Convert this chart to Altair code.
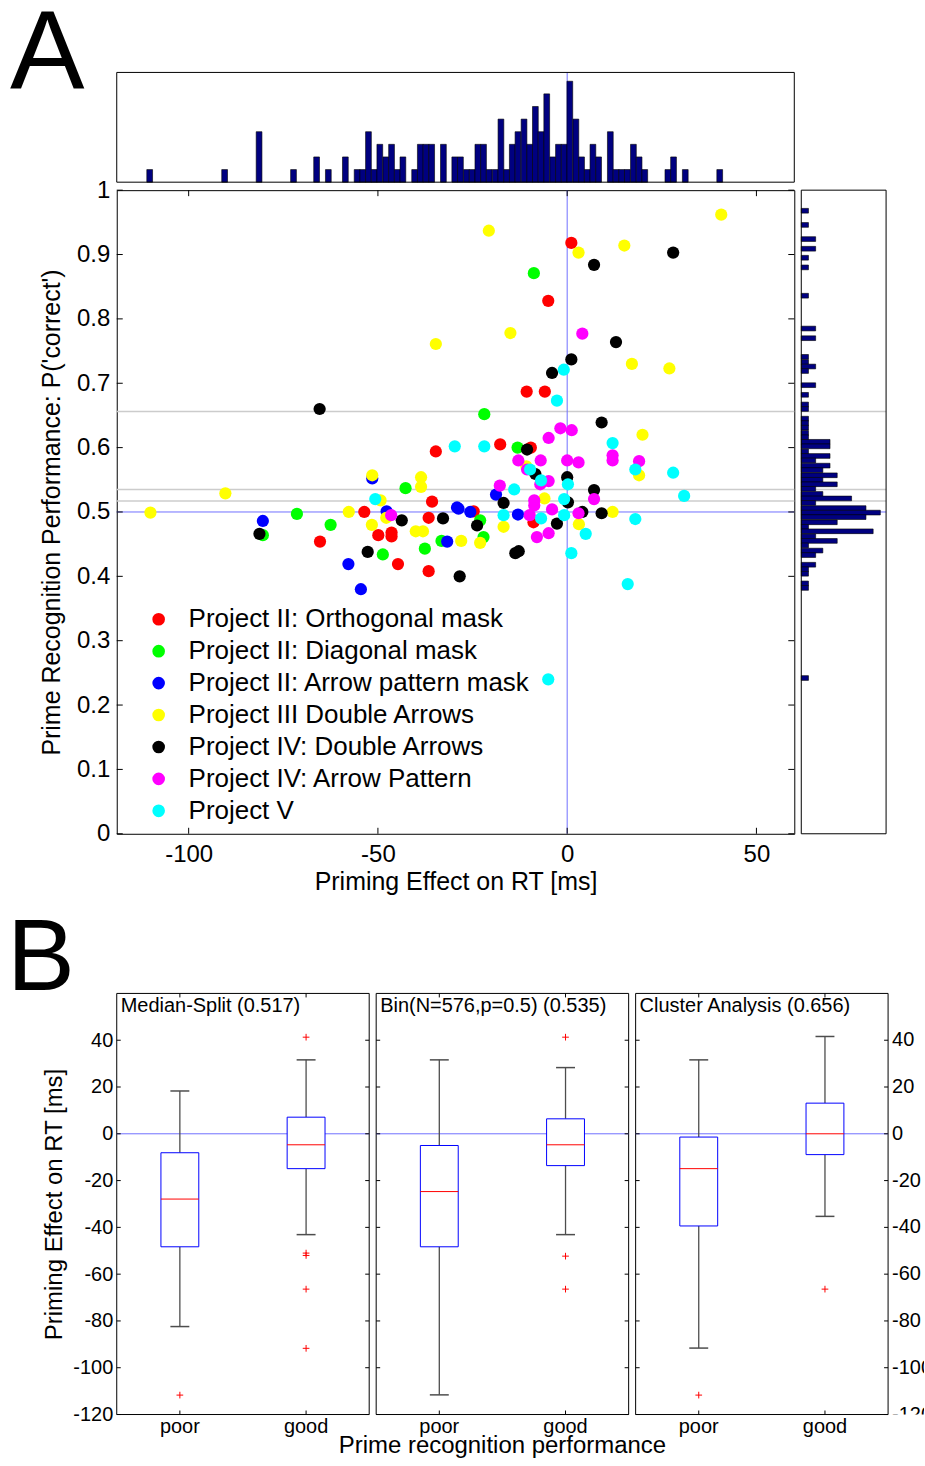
import altair as alt
import pandas as pd

FONT = "Liberation Sans"

# ---------------- Panel A: scatter data, one pair of lists per project ----------------
PROJECTS = [
    "Project II: Orthogonal mask",
    "Project II: Diagonal mask",
    "Project II: Arrow pattern mask",
    "Project III Double Arrows",
    "Project IV: Double Arrows",
    "Project IV: Arrow Pattern",
    "Project V",
]
COLORS = ["#ff0000", "#00ff00", "#0000ff", "#ffff00", "#000000", "#ff00ff", "#00ffff"]

orth_rt = [-65.3, -53.6, -44.7, -49.9, -46.4, -46.4, -34.7, -35.7, -36.6, -36.6, 1.1, -5.0,
           -10.7, -5.9, -17.7, -9.6, -24.7, -8.9]
orth_p = [0.454, 0.500, 0.419, 0.464, 0.468, 0.462, 0.594, 0.516, 0.491, 0.408, 0.918, 0.828,
          0.687, 0.687, 0.605, 0.600, 0.501, 0.484]

diag_rt = [-80.4, -71.4, -62.5, -48.7, -42.7, -37.6, -33.2, -8.8, -21.9, -13.1, -23.0, -22.1]
diag_p = [0.464, 0.497, 0.480, 0.434, 0.537, 0.443, 0.455, 0.871, 0.652, 0.600, 0.487, 0.461]

arrow_rt = [-80.4, -57.8, -54.5, -51.5, -47.7, -31.7, -29.1, -28.7, -25.6, -18.8, -13.0]
arrow_p = [0.486, 0.419, 0.380, 0.552, 0.501, 0.454, 0.507, 0.505, 0.500, 0.527, 0.496]

p3_rt = [-110.1, -90.3, -57.7, -51.5, -49.3, -47.8, -51.6, -38.6, -38.6, -40.0, -38.1, -28.0,
         -34.7, -20.7, 3.0, 15.1, 40.7, -15.0, 17.1, 27.0, 19.9, 19.0, -10.8, -6.0, 12.0, 3.1,
         -16.8, -23.0]
p3_p = [0.499, 0.529, 0.500, 0.557, 0.518, 0.491, 0.480, 0.554, 0.539, 0.470, 0.470, 0.455,
        0.761, 0.937, 0.903, 0.914, 0.962, 0.778, 0.730, 0.723, 0.620, 0.557, 0.571, 0.521,
        0.500, 0.481, 0.477, 0.452]

p4d_rt = [-65.4, -81.3, -52.7, -43.7, -32.8, -28.4, 28.0, 7.1, 12.9, 1.1, -4.0, 9.1, -10.6,
          -8.4, 0.0, 7.1, -16.8, 0.2, -23.8, 4.0, 9.1, -2.7, -13.7, -12.8]
p4d_p = [0.660, 0.466, 0.438, 0.487, 0.490, 0.400, 0.903, 0.884, 0.764, 0.737, 0.716, 0.639,
         0.597, 0.559, 0.554, 0.534, 0.514, 0.515, 0.479, 0.500, 0.498, 0.482, 0.436, 0.439]

p4a_rt = [-46.5, 4.0, -1.8, 1.2, -4.9, -12.9, -7.0, 0.0, 3.0, 12.0, 12.0, 19.0, -10.6, -4.9,
          -7.1, 7.1, -17.8, -8.7, -8.7, -9.9, -4.0, 3.0, -4.9, -8.0]
p4a_p = [0.495, 0.777, 0.630, 0.627, 0.615, 0.580, 0.580, 0.580, 0.577, 0.588, 0.580, 0.579,
         0.566, 0.548, 0.543, 0.520, 0.541, 0.518, 0.510, 0.495, 0.504, 0.498, 0.467, 0.461]

p5_rt = [-50.7, -29.7, -0.9, -2.7, -21.9, 12.0, 18.0, 28.0, 30.9, -9.8, -6.9, 0.2, -14.0, -0.8,
         -16.8, -6.9, -0.8, 18.0, 4.9, 1.1, 16.0, -5.0]
p5_p = [0.520, 0.602, 0.721, 0.673, 0.602, 0.607, 0.566, 0.561, 0.525, 0.566, 0.549, 0.543,
        0.535, 0.520, 0.495, 0.490, 0.495, 0.489, 0.466, 0.436, 0.388, 0.240]

# split criteria drawn as horizontal reference lines
split_levels = [0.656, 0.535, 0.517]

# marginal histogram of RT priming effects (bin centre, count)
rt_bin_centre = [-110.3, -90.5, -81.4, -72.3, -66.2, -63.1, -58.6, -55.5, -54.0, -52.5,
                 -51.0, -49.5, -47.9, -46.4, -44.9, -43.4, -40.3, -38.8, -37.3, -35.8,
                 -32.7, -29.7, -28.2, -26.6, -25.1, -23.6, -22.1, -20.6, -19.0, -17.5,
                 -16.0, -14.5, -13.0, -11.4, -9.9, -8.4, -6.9, -5.4, -3.8, -2.3,
                 -0.8, 0.7, 2.3, 3.8, 5.3, 6.8, 8.3, 11.4, 12.9, 14.4,
                 15.9, 17.5, 19.0, 20.5, 26.6, 28.1, 31.2, 40.3]
rt_bin_count = [1, 1, 4, 1, 2, 1, 2, 1, 1, 4,
                1, 3, 2, 3, 1, 2, 1, 3, 3, 3,
                3, 2, 2, 1, 1, 3, 3, 1, 1, 5,
                1, 3, 4, 5, 3, 6, 4, 7, 2, 3,
                3, 8, 5, 2, 1, 3, 2, 4, 1, 1,
                1, 3, 2, 1, 1, 2, 1, 1]
RT_BIN_WIDTH = 1.521

# marginal histogram of recognition performance (bin centre, count)
pc_bin_centre = [0.968, 0.946, 0.924, 0.909, 0.895, 0.880, 0.836, 0.785, 0.770, 0.741,
                 0.733, 0.726, 0.719, 0.697, 0.682, 0.667, 0.660, 0.645, 0.638, 0.631,
                 0.623, 0.616, 0.609, 0.602, 0.594, 0.587, 0.580, 0.572, 0.565, 0.557,
                 0.550, 0.543, 0.536, 0.528, 0.521, 0.514, 0.506, 0.499, 0.492, 0.484,
                 0.477, 0.470, 0.462, 0.455, 0.448, 0.440, 0.433, 0.418, 0.411, 0.404,
                 0.389, 0.382, 0.242]
pc_bin_count = [1, 1, 2, 2, 1, 1, 1, 2, 2, 1,
                1, 2, 1, 2, 1, 1, 1, 1, 1, 1,
                1, 1, 4, 4, 1, 4, 2, 4, 3, 5,
                3, 5, 2, 3, 7, 2, 9, 11, 9, 5,
                1, 10, 2, 5, 1, 3, 2, 2, 1, 1,
                1, 1, 1]
PC_BIN_WIDTH = 0.00733

# ---------------- Panel B: box-plot summaries ----------------
panel_titles = ["Median-Split (0.517)", "Bin(N=576,p=0.5) (0.535)", "Cluster Analysis (0.656)"]
groups = ["poor", "good"]
whisker_low = [[-82.4, -43.1], [-111.6, -43.1], [-91.6, -35.3]]
quart_low = [[-48.3, -14.9], [-48.3, -13.6], [-39.4, -8.9]]
medians = [[-27.9, -4.7], [-24.7, -4.7], [-14.9, 0.0]]
quart_high = [[-8.1, 7.1], [-5.0, 6.4], [-1.4, 13.1]]
whisker_high = [[18.3, 31.6], [31.6, 28.3], [31.6, 41.6]]
outliers = [
    {"poor": [-111.7], "good": [41.3, -51.0, -52.0, -66.4, -91.7]},
    {"poor": [], "good": [41.3, -52.3, -66.4]},
    {"poor": [-111.7], "good": [-66.4]},
]

# ---------------- layout constants (pixels) ----------------
W_SC, H_SC = 679, 645          # scatter plot area
TOP_GAP, H_TOP = 8, 110        # top histogram above the scatter
RIGHT_GAP, W_RIGHT = 7, 85     # right histogram beside the scatter
W_BOX, H_BOX = 253, 422        # each box-plot panel
BOX_X0 = [0, 260, 520]         # left edge of each box-plot panel
W_B = 809                      # panel B drawing width (right labels run to the edge)
NAVY = "#000080"
BLUE_LINE = "#7070ff"
GRAY_LINE = "#cccccc"
WHISKER = "#4d4d4d"

RT_DOMAIN = [-119, 60]
PC_DOMAIN = [0, 1]
TOP_MAX = 8.7
RIGHT_MAX = 11.8

rt_scale = alt.Scale(domain=RT_DOMAIN, nice=False, zero=False)
pc_scale = alt.Scale(domain=PC_DOMAIN, nice=False, zero=False)
top_count_scale = alt.Scale(domain=[0, TOP_MAX], range=[-TOP_GAP, -TOP_GAP - H_TOP],
                            nice=False, zero=False)
right_count_scale = alt.Scale(domain=[0, RIGHT_MAX],
                              range=[W_SC + RIGHT_GAP, W_SC + RIGHT_GAP + W_RIGHT],
                              nice=False, zero=False)

rt_ticks = [-100, -50, 0, 50]
pc_ticks = [0.0, 0.1, 0.2, 0.3, 0.4, 0.5, 0.6, 0.7, 0.8, 0.9, 1.0]
PLAIN_NUM = "'' + datum.value"   # ASCII hyphen for negative numbers

X_AX = alt.Axis(values=rt_ticks, labelExpr=PLAIN_NUM, title="Priming Effect on RT [ms]",
                labelFontSize=24, titleFontSize=25, titleFontWeight="normal", ticks=False,
                domain=False, grid=False, labelPadding=9, titlePadding=3, labelColor="black",
                titleColor="black")
Y_AX = alt.Axis(values=pc_ticks, format=".1~f",
                title="Prime Recognition Performance: P('correct')", labelFontSize=24,
                titleFontSize=25, titleFontWeight="normal", ticks=False, domain=False,
                grid=False, labelPadding=7, titlePadding=12, labelColor="black",
                titleColor="black")

# ---------------- scatter ----------------
rows = []
for name, xs, ys in zip(PROJECTS,
                        [orth_rt, diag_rt, arrow_rt, p3_rt, p4d_rt, p4a_rt, p5_rt],
                        [orth_p, diag_p, arrow_p, p3_p, p4d_p, p4a_p, p5_p]):
    for a, b in zip(xs, ys):
        rows.append({"rt": a, "pc": b, "project": name})
scatter_df = pd.DataFrame(rows)

split_df = pd.DataFrame({"level": split_levels, "c0": 0.0, "c1": RIGHT_MAX})
chance_df = pd.DataFrame({"level": [0.5], "c0": 0.0, "c1": RIGHT_MAX})
zero_df = pd.DataFrame({"rt": [0.0], "c0": 0.0, "c1": TOP_MAX})
xt_df = pd.DataFrame({"rt": rt_ticks})
yt_df = pd.DataFrame({"pc": pc_ticks})

split_rules = alt.Chart(split_df).mark_rule(color=GRAY_LINE, strokeWidth=1.5).encode(
    y=alt.Y("level:Q", scale=pc_scale, axis=Y_AX))
chance_rule = alt.Chart(chance_df).mark_rule(color=BLUE_LINE, strokeWidth=1).encode(
    y=alt.Y("level:Q", scale=pc_scale, axis=Y_AX))
zero_rule = alt.Chart(zero_df).mark_rule(color=BLUE_LINE, strokeWidth=1).encode(
    x=alt.X("rt:Q", scale=rt_scale, axis=X_AX))

tick_len = 6
xt_bottom = alt.Chart(xt_df).mark_rule(color="black").encode(
    x=alt.X("rt:Q", scale=rt_scale, axis=X_AX), y=alt.value(H_SC), y2=alt.value(H_SC - tick_len))
xt_top = alt.Chart(xt_df).mark_rule(color="black").encode(
    x=alt.X("rt:Q", scale=rt_scale, axis=X_AX), y=alt.value(0), y2=alt.value(tick_len))
yt_left = alt.Chart(yt_df).mark_rule(color="black").encode(
    y=alt.Y("pc:Q", scale=pc_scale, axis=Y_AX), x=alt.value(0), x2=alt.value(tick_len))
yt_right = alt.Chart(yt_df).mark_rule(color="black").encode(
    y=alt.Y("pc:Q", scale=pc_scale, axis=Y_AX), x=alt.value(W_SC - tick_len), x2=alt.value(W_SC))

points = alt.Chart(scatter_df).mark_circle(size=150, opacity=1).encode(
    x=alt.X("rt:Q", scale=rt_scale, axis=X_AX),
    y=alt.Y("pc:Q", scale=pc_scale, axis=Y_AX),
    color=alt.Color(
        "project:N",
        scale=alt.Scale(domain=PROJECTS, range=COLORS),
        sort=PROJECTS,
        legend=alt.Legend(orient="none", legendX=29, legendY=417, title=None,
                          labelFontSize=26, labelColor="black", labelLimit=600,
                          symbolType="circle", symbolSize=160, symbolStrokeWidth=0,
                          symbolOpacity=1, rowPadding=6, labelOffset=17, padding=0),
    ),
)

scatter_layer = alt.layer(split_rules, chance_rule, zero_rule, xt_bottom, xt_top, yt_left,
                          yt_right, points)

# ---------------- top marginal histogram (drawn above the scatter) ----------------
top_df = pd.DataFrame({"centre": rt_bin_centre, "count": rt_bin_count})
top_df["lo"] = top_df["centre"] - RT_BIN_WIDTH / 2
top_df["hi"] = top_df["centre"] + RT_BIN_WIDTH / 2
top_df["base"] = 0.0
top_frame_df = pd.DataFrame({"x0": [RT_DOMAIN[0]], "x1": [RT_DOMAIN[1]],
                             "y0": [0.0], "y1": [TOP_MAX]})

TX = lambda f: alt.X(f, scale=rt_scale, axis=None)
TY = lambda f: alt.Y(f, scale=top_count_scale, axis=None)

top_zero = alt.Chart(zero_df).mark_rule(color=BLUE_LINE, strokeWidth=1).encode(
    x=TX("rt:Q"), y=TY("c0:Q"), y2="c1:Q")
top_bars = alt.Chart(top_df).mark_rect(fill=NAVY, stroke="black", strokeWidth=0.6).encode(
    x=TX("lo:Q"), x2="hi:Q", y=TY("base:Q"), y2="count:Q")
top_frame = alt.Chart(top_frame_df).mark_rect(filled=False, color="black", strokeWidth=1).encode(
    x=TX("x0:Q"), x2="x1:Q", y=TY("y0:Q"), y2="y1:Q")
letter_a = alt.Chart(pd.DataFrame({"t": ["A"]})).mark_text(
    fontSize=112, align="left", baseline="alphabetic", color="black").encode(
    text="t:N", x=alt.value(-107), y=alt.value(-102))
top_layer = alt.layer(top_zero, top_bars, top_frame, letter_a)

# ---------------- right marginal histogram (drawn beside the scatter) ----------------
right_df = pd.DataFrame({"centre": pc_bin_centre, "count": pc_bin_count})
right_df["lo"] = right_df["centre"] - PC_BIN_WIDTH / 2
right_df["hi"] = right_df["centre"] + PC_BIN_WIDTH / 2
right_df["base"] = 0.0
right_frame_df = pd.DataFrame({"x0": [0.0], "x1": [RIGHT_MAX],
                               "y0": [PC_DOMAIN[0]], "y1": [PC_DOMAIN[1]]})

RX = lambda f: alt.X(f, scale=right_count_scale, axis=None)
RY = lambda f: alt.Y(f, scale=pc_scale, axis=None)

right_split = alt.Chart(split_df).mark_rule(color=GRAY_LINE, strokeWidth=1.5).encode(
    y=RY("level:Q"), x=RX("c0:Q"), x2="c1:Q")
right_chance = alt.Chart(chance_df).mark_rule(color=BLUE_LINE, strokeWidth=1).encode(
    y=RY("level:Q"), x=RX("c0:Q"), x2="c1:Q")
right_bars = alt.Chart(right_df).mark_rect(fill=NAVY, stroke="black", strokeWidth=0.6).encode(
    y=RY("lo:Q"), y2="hi:Q", x=RX("base:Q"), x2="count:Q")
right_frame = alt.Chart(right_frame_df).mark_rect(filled=False, color="black",
                                                  strokeWidth=1).encode(
    x=RX("x0:Q"), x2="x1:Q", y=RY("y0:Q"), y2="y1:Q")
right_layer = alt.layer(right_split, right_chance, right_bars, right_frame)

panel_a = alt.layer(scatter_layer, top_layer, right_layer).resolve_scale(
    x="independent", y="independent"
).properties(width=W_SC, height=H_SC, view=alt.ViewBackground(stroke="black", strokeWidth=1))

# ---------------- box-plot panels ----------------
EFF_DOMAIN = [-120, 60]
GRP_DOMAIN = [0.5, 2.5]
eff_ticks = [-120, -100, -80, -60, -40, -20, 0, 20, 40]
BOX_HALF = 0.15
CAP_HALF = 0.075
TICK_DX = 4 * (GRP_DOMAIN[1] - GRP_DOMAIN[0]) / W_BOX
TICK_DY = 4 * (EFF_DOMAIN[1] - EFF_DOMAIN[0]) / H_BOX


def box_panel(k):
    xs = alt.Scale(domain=GRP_DOMAIN, range=[BOX_X0[k], BOX_X0[k] + W_BOX], nice=False,
                   zero=False)
    ys = alt.Scale(domain=EFF_DOMAIN, nice=False, zero=False)
    if k == 0:
        yax = alt.Axis(values=eff_ticks, labelExpr=PLAIN_NUM, orient="left",
                       title="Priming Effect on RT [ms]", labelFontSize=20, titleFontSize=24,
                       titleFontWeight="normal", ticks=False, domain=False, grid=False,
                       labelPadding=4, titlePadding=6, labelColor="black",
                       titleColor="black")
    else:
        yax = None

    X = lambda f: alt.X(f, scale=xs, axis=None)
    Y = lambda f: alt.Y(f, scale=ys, axis=yax)

    df = pd.DataFrame({
        "group": groups,
        "pos": [1.0, 2.0],
        "lw": whisker_low[k],
        "q1": quart_low[k],
        "med": medians[k],
        "q3": quart_high[k],
        "uw": whisker_high[k],
    })
    df["blo"] = df["pos"] - BOX_HALF
    df["bhi"] = df["pos"] + BOX_HALF
    df["clo"] = df["pos"] - CAP_HALF
    df["chi"] = df["pos"] + CAP_HALF
    df["ybot"] = EFF_DOMAIN[0]
    df["ybot2"] = EFF_DOMAIN[0] + TICK_DY
    df["ytop"] = EFF_DOMAIN[1]
    df["ytop2"] = EFF_DOMAIN[1] - TICK_DY

    out_rows = []
    for gi, g in enumerate(groups):
        for v in outliers[k][g]:
            out_rows.append({"pos": gi + 1.0, "v": v})
    out_df = pd.DataFrame(out_rows, columns=["pos", "v"])

    frame_df = pd.DataFrame({"x0": [GRP_DOMAIN[0]], "x1": [GRP_DOMAIN[1]],
                             "y0": [EFF_DOMAIN[0]], "y1": [EFF_DOMAIN[1]], "zero": [0.0],
                             "mid": [1.5], "t": [panel_titles[k]],
                             "xt": ["Prime recognition performance"]})
    ytk = pd.DataFrame({"v": eff_ticks})
    ytk["lab"] = [str(v) for v in eff_ticks]
    ytk["l0"] = GRP_DOMAIN[0]
    ytk["l1"] = GRP_DOMAIN[0] + TICK_DX
    ytk["r0"] = GRP_DOMAIN[1] - TICK_DX
    ytk["r1"] = GRP_DOMAIN[1]

    frame = alt.Chart(frame_df).mark_rect(filled=False, color="black", strokeWidth=1).encode(
        x=X("x0:Q"), x2="x1:Q", y=Y("y0:Q"), y2="y1:Q")
    zero_line = alt.Chart(frame_df).mark_rule(color=BLUE_LINE, strokeWidth=1).encode(
        x=X("x0:Q"), x2="x1:Q", y=Y("zero:Q"))
    tk_l = alt.Chart(ytk).mark_rule(color="black").encode(x=X("l0:Q"), x2="l1:Q", y=Y("v:Q"))
    tk_r = alt.Chart(ytk).mark_rule(color="black").encode(x=X("r0:Q"), x2="r1:Q", y=Y("v:Q"))
    tk_b = alt.Chart(df).mark_rule(color="black").encode(x=X("pos:Q"), y=Y("ybot:Q"),
                                                         y2="ybot2:Q")
    tk_t = alt.Chart(df).mark_rule(color="black").encode(x=X("pos:Q"), y=Y("ytop:Q"),
                                                         y2="ytop2:Q")
    wl = alt.Chart(df).mark_rule(color=WHISKER, strokeWidth=1.3).encode(
        x=X("pos:Q"), y=Y("lw:Q"), y2="q1:Q")
    wh = alt.Chart(df).mark_rule(color=WHISKER, strokeWidth=1.3).encode(
        x=X("pos:Q"), y=Y("q3:Q"), y2="uw:Q")
    cap_l = alt.Chart(df).mark_rule(color=WHISKER, strokeWidth=1.5).encode(
        x=X("clo:Q"), x2="chi:Q", y=Y("lw:Q"))
    cap_h = alt.Chart(df).mark_rule(color=WHISKER, strokeWidth=1.5).encode(
        x=X("clo:Q"), x2="chi:Q", y=Y("uw:Q"))
    box = alt.Chart(df).mark_rect(fill="white", stroke="#0000ff", strokeWidth=1).encode(
        x=X("blo:Q"), x2="bhi:Q", y=Y("q1:Q"), y2="q3:Q")
    med = alt.Chart(df).mark_rule(color="#ff0000", strokeWidth=1).encode(
        x=X("blo:Q"), x2="bhi:Q", y=Y("med:Q"))
    outl = alt.Chart(out_df).mark_point(
        shape="M-1,0L1,0M0,-1L0,1", size=45, color="#ff0000", filled=False,
        strokeWidth=1, opacity=1).encode(x=X("pos:Q"), y=Y("v:Q"))
    grp_lab = alt.Chart(df).mark_text(baseline="top", fontSize=20, color="black").encode(
        x=X("pos:Q"), y=alt.value(H_BOX + 3), text="group:N")
    title = alt.Chart(frame_df).mark_text(align="left", baseline="top", fontSize=20,
                                          color="black", dx=4).encode(
        x=X("x0:Q"), y=alt.value(3), text="t:N")

    layers = [frame, zero_line, tk_l, tk_r, tk_b, tk_t, wl, wh, cap_l, cap_h, box, med, outl,
              grp_lab, title]
    if k == 1:
        layers.append(alt.Chart(frame_df).mark_text(baseline="top", fontSize=24,
                                                    color="black").encode(
            x=X("mid:Q"), y=alt.value(H_BOX + 20), text="xt:N"))
    if k == 2:
        # right-hand tick labels, cut at the figure edge
        layers.append(alt.Chart(ytk).mark_text(align="left", baseline="middle", fontSize=20,
                                               color="black", clip=True, dx=4).encode(
            x=X("r1:Q"), y=Y("v:Q"), text="lab:N"))
    if k == 0:
        layers.append(alt.Chart(pd.DataFrame({"t": ["B"]})).mark_text(
            fontSize=102, align="left", baseline="alphabetic", color="black").encode(
            text="t:N", x=alt.value(-110), y=alt.value(-3)))
    return alt.layer(*layers)


panel_b = alt.layer(box_panel(0), box_panel(1), box_panel(2)).resolve_scale(
    x="independent", y="independent"
).properties(width=W_B, height=H_BOX, view=alt.ViewBackground(stroke="transparent"))

chart = alt.vconcat(panel_a, panel_b, spacing=160, bounds="flush").properties(
    padding={"left": 6, "top": -4, "right": 0, "bottom": 0}
).configure(font=FONT, background="white")

chart.save("out.html", embed_options={"renderer": "svg", "actions": False})
